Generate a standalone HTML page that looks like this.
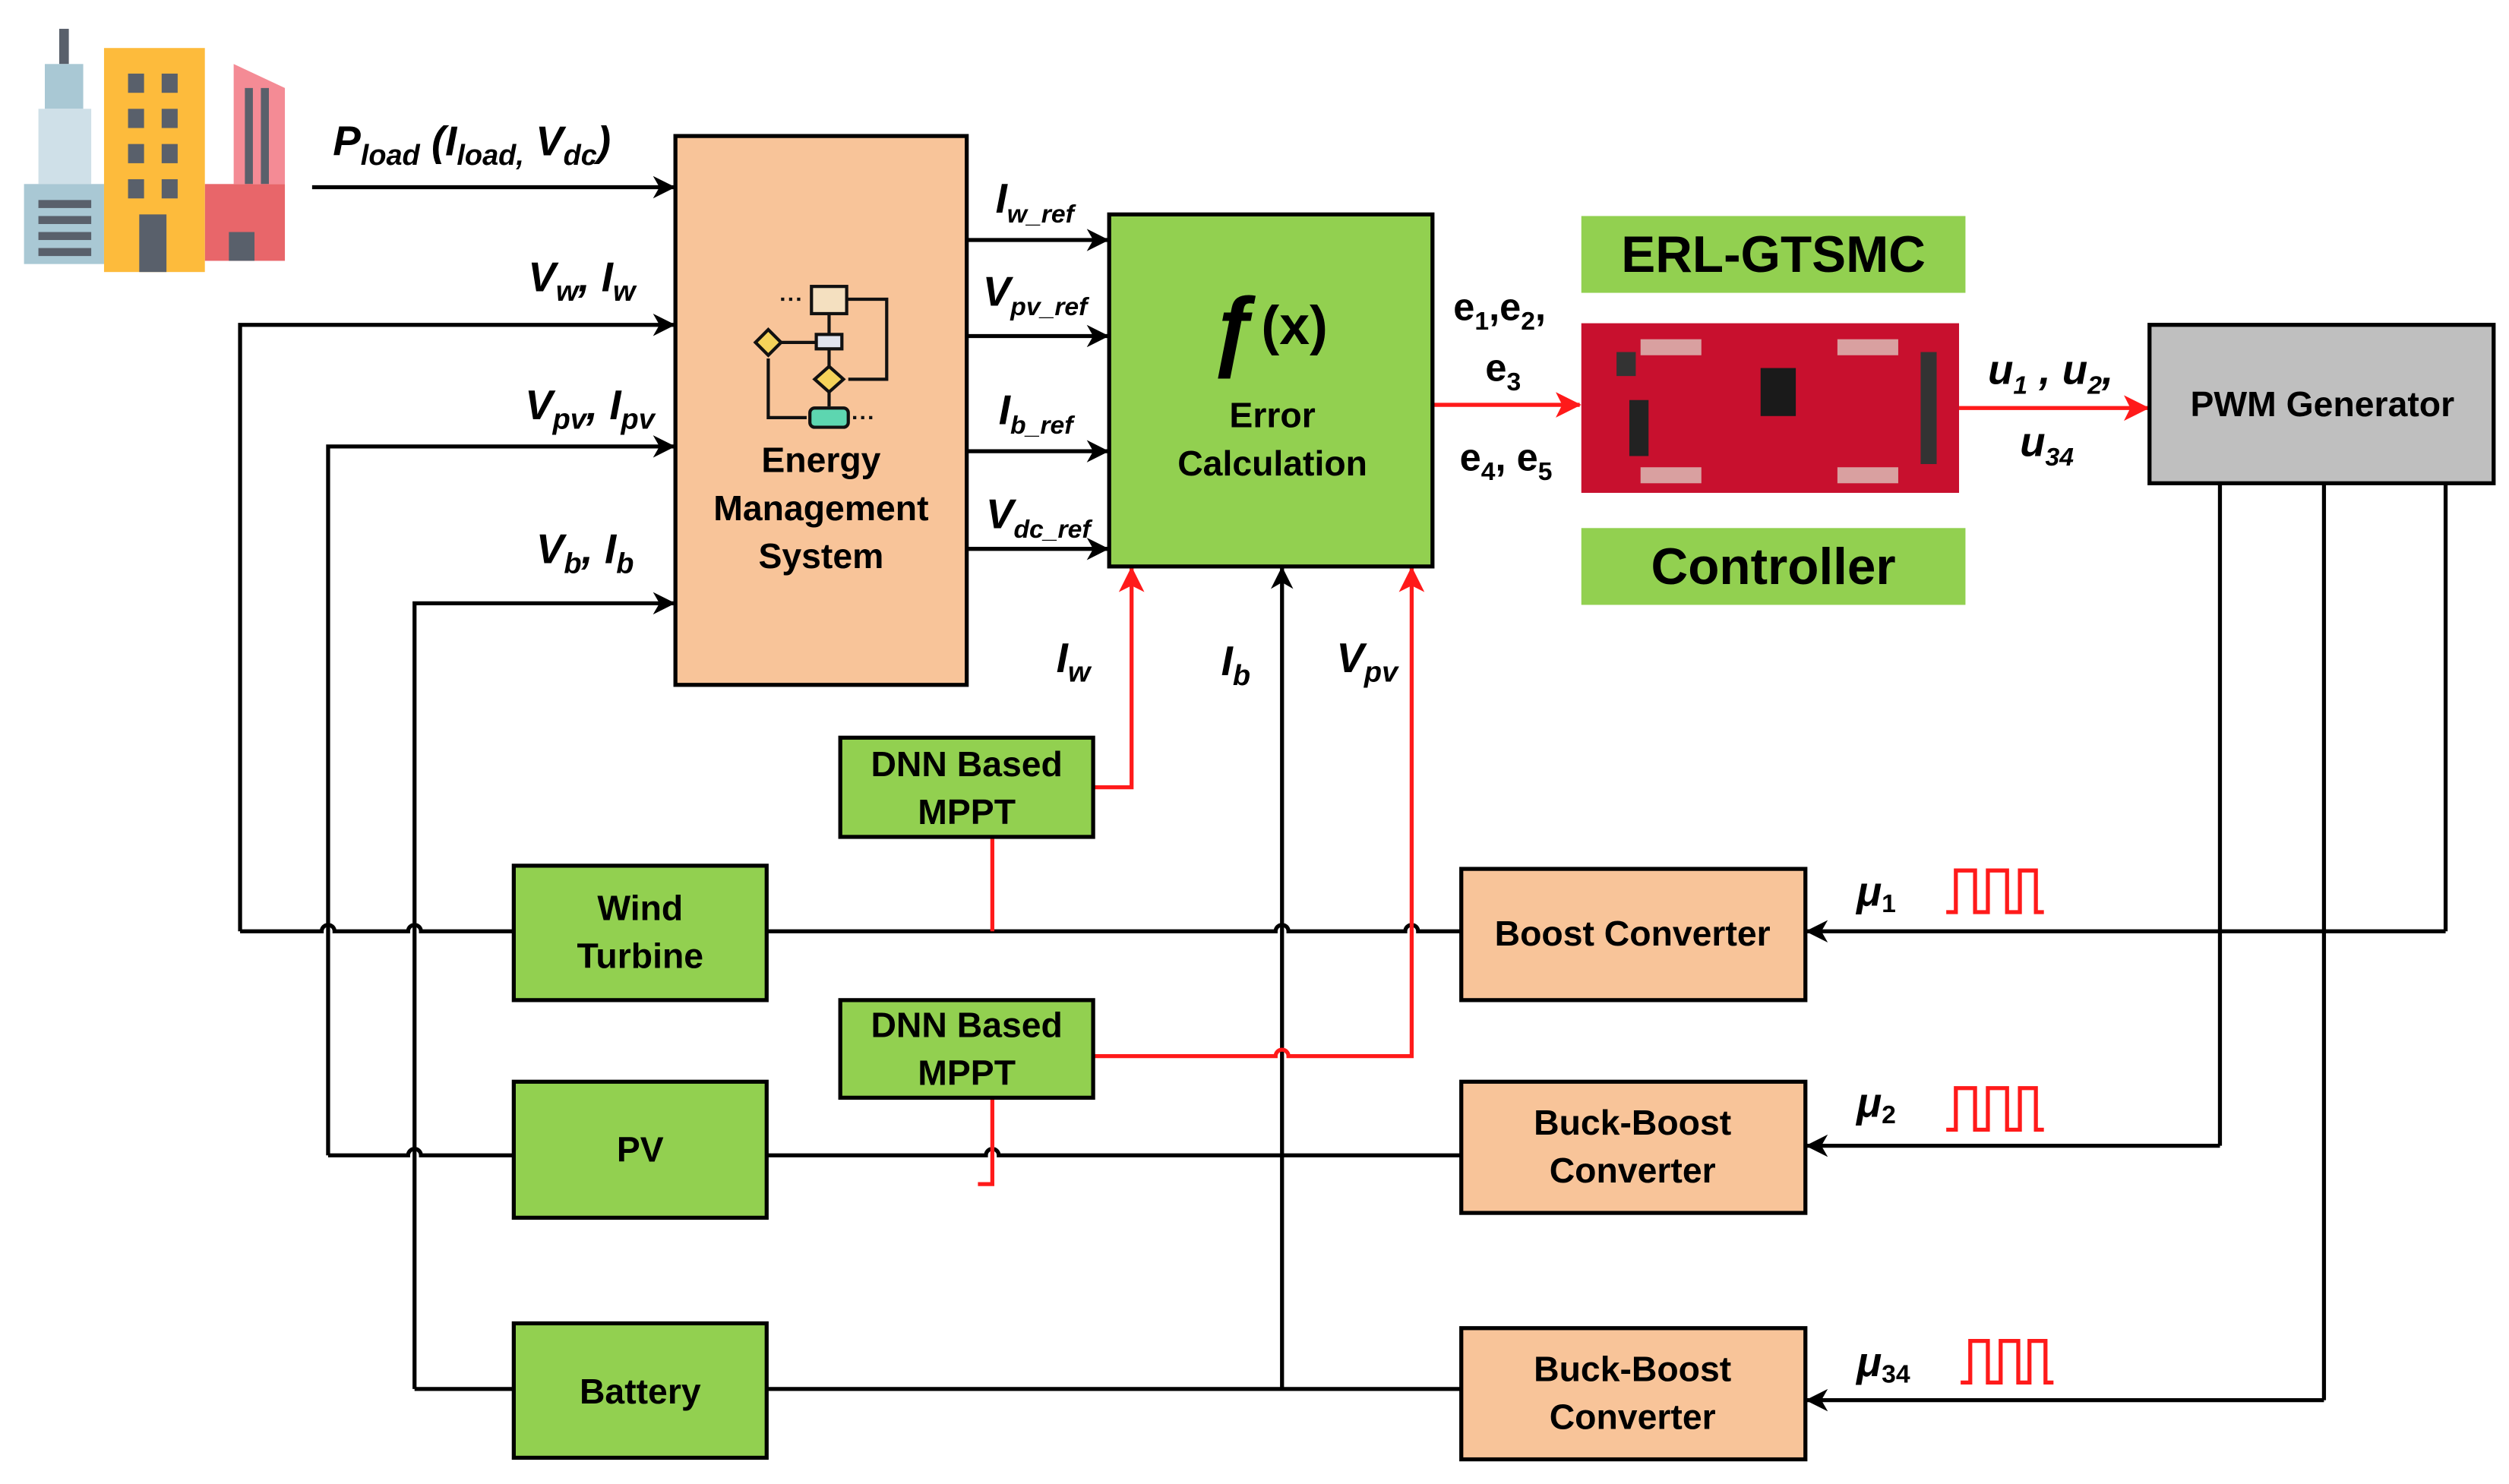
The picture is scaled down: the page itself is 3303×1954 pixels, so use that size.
<!DOCTYPE html>
<html><head><meta charset="utf-8"><style>
html,body{margin:0;padding:0;background:#fff;}
svg{display:block;}
text{font-family:"Liberation Sans",Arial,sans-serif;font-weight:bold;fill:#000;}
.m{font-style:italic;font-size:26px;}
.s{font-size:17px;}
.b{font-size:22px;}
</style></head><body>
<svg width="3303" height="1954" viewBox="0 0 1567.6 927.4" preserveAspectRatio="none" xmlns="http://www.w3.org/2000/svg">
<defs>
<marker id="ak" markerWidth="14" markerHeight="14" refX="13" refY="7" orient="auto" markerUnits="userSpaceOnUse"><path d="M0,0 L14,7 L0,14 L4,7 Z" fill="#000"/></marker>
<marker id="ar" markerWidth="16" markerHeight="16" refX="15" refY="8" orient="auto" markerUnits="userSpaceOnUse"><path d="M0,0 L16,8 L0,16 L4,8 Z" fill="#ff1a1a"/></marker>
</defs>
<!-- building -->
<rect x="37" y="18" width="6" height="22" fill="#59606b"/>
<rect x="28" y="40" width="24" height="28" fill="#a9c8d4"/>
<rect x="24" y="68" width="33" height="47" fill="#cfe0e8"/>
<rect x="15" y="115" width="50" height="50" fill="#a9c8d4"/>
<rect x="24" y="125" width="33" height="5" fill="#59606b"/><rect x="24" y="135" width="33" height="5" fill="#59606b"/><rect x="24" y="145" width="33" height="5" fill="#59606b"/><rect x="24" y="155" width="33" height="5" fill="#59606b"/>
<polygon points="146,40 178,55 178,115 146,115" fill="#f48b95"/>
<rect x="153" y="55" width="5" height="60" fill="#59606b"/><rect x="163" y="55" width="5" height="60" fill="#59606b"/>
<rect x="128" y="115" width="50" height="48" fill="#e8666a"/>
<rect x="143" y="145" width="16" height="18" fill="#59606b"/>
<rect x="65" y="30" width="63" height="140" fill="#fdbb3c"/>
<g fill="#59606b"><rect x="80" y="46" width="10" height="12"/><rect x="101" y="46" width="10" height="12"/><rect x="80" y="68" width="10" height="12"/><rect x="101" y="68" width="10" height="12"/><rect x="80" y="90" width="10" height="12"/><rect x="101" y="90" width="10" height="12"/><rect x="80" y="112" width="10" height="12"/><rect x="101" y="112" width="10" height="12"/><rect x="87" y="134" width="17" height="36"/></g>

<g stroke="#000" stroke-width="2.5" fill="none">
<line x1="195" y1="117" x2="421" y2="117" marker-end="url(#ak)"/>
<polyline points="150,582 150,203 421,203" marker-end="url(#ak)"/>
<polyline points="205,722 205,279 421,279" marker-end="url(#ak)"/>
<polyline points="259,868 259,377 421,377" marker-end="url(#ak)"/>
<line x1="604" y1="150" x2="692" y2="150" marker-end="url(#ak)"/>
<line x1="604" y1="210" x2="692" y2="210" marker-end="url(#ak)"/>
<line x1="604" y1="282" x2="692" y2="282" marker-end="url(#ak)"/>
<line x1="604" y1="343" x2="692" y2="343" marker-end="url(#ak)"/>
<path d="M150,582 H201 a4,4 0 0 1 8,0 H255 a4,4 0 0 1 8,0 H321"/>
<path d="M479,582 H797 a4,4 0 0 1 8,0 H878 a4,4 0 0 1 8,0 H913"/>
<path d="M205,722 H255 a4,4 0 0 1 8,0 H321"/>
<path d="M479,722 H616 a4,4 0 0 1 8,0 H913"/>
<path d="M259,868 H321 M479,868 H913"/>
<polyline points="801,868 801,355" marker-end="url(#ak)"/>
<line x1="1387" y1="302" x2="1387" y2="716"/>
<line x1="1452" y1="302" x2="1452" y2="875"/>
<line x1="1528" y1="302" x2="1528" y2="582"/>
<polyline points="1528,582 1129,582" marker-end="url(#ak)"/>
<polyline points="1387,716 1129,716" marker-end="url(#ak)"/>
<polyline points="1452,875 1129,875" marker-end="url(#ak)"/>
</g>
<g stroke="#ff1a1a" stroke-width="2.5" fill="none">
<polyline points="683,492 707,492 707,355" marker-end="url(#ar)"/>
<path d="M683,660 H797 a4,4 0 0 1 8,0 H882 V355" marker-end="url(#ar)"/>
<line x1="620" y1="523" x2="620" y2="582"/>
<polyline points="620,686 620,740 611,740"/>
<line x1="895" y1="253" x2="987" y2="253" marker-end="url(#ar)"/>
<line x1="1224" y1="255" x2="1342" y2="255" marker-end="url(#ar)"/>
<polyline points="1216,570 1222,570 1222,544 1234,544 1234,570 1242,570 1242,544 1254,544 1254,570 1262,570 1262,544 1272,544 1272,570 1277,570"/>
<polyline points="1216,706 1222,706 1222,680 1234,680 1234,706 1242,706 1242,680 1254,680 1254,706 1262,706 1262,680 1272,680 1272,706 1277,706"/>
<polyline points="1225,864 1231,864 1231,838 1242,838 1242,864 1250,864 1250,838 1261,838 1261,864 1268,864 1268,838 1278,838 1278,864 1283,864"/>
</g>
<g stroke="#000" stroke-width="2.5">
<rect x="422" y="85" width="182" height="343" fill="#f8c499"/>
<rect x="693" y="134" width="202" height="220" fill="#92d050"/>
<rect x="1343" y="203" width="215" height="99" fill="#bfbfbf"/>
<rect x="913" y="543" width="215" height="82" fill="#f8c499"/>
<rect x="913" y="676" width="215" height="82" fill="#f8c499"/>
<rect x="913" y="830" width="215" height="82" fill="#f8c499"/>
<rect x="321" y="541" width="158" height="84" fill="#92d050"/>
<rect x="321" y="676" width="158" height="85" fill="#92d050"/>
<rect x="321" y="827" width="158" height="84" fill="#92d050"/>
<rect x="525" y="461" width="158" height="62" fill="#92d050"/>
<rect x="525" y="625" width="158" height="61" fill="#92d050"/>
</g>
<rect x="988" y="135" width="240" height="48" fill="#92d050"/>
<rect x="988" y="330" width="240" height="48" fill="#92d050"/>
<rect x="988" y="202" width="236" height="106" fill="#c8102e"/>
<rect x="1100" y="230" width="22" height="30" fill="#1a1a1a"/>
<rect x="1010" y="220" width="12" height="15" fill="#333"/>
<rect x="1018" y="250" width="12" height="35" fill="#222"/>
<g fill="#d9a0a0"><rect x="1025" y="212" width="38" height="10"/><rect x="1148" y="212" width="38" height="10"/><rect x="1025" y="292" width="38" height="10"/><rect x="1148" y="292" width="38" height="10"/></g>
<rect x="1200" y="220" width="10" height="70" fill="#333"/>
<g stroke="#111" stroke-width="2" fill="none">
<rect x="507" y="179" width="22" height="17" fill="#f4e0c0"/>
<rect x="510" y="209" width="16" height="9" fill="#e0e4ee"/>
<line x1="518" y1="196" x2="518" y2="209"/><line x1="518" y1="218" x2="518" y2="229"/>
<polygon points="518,229 527,237 518,245 509,237" fill="#f5d35a"/>
<polygon points="480,206 488,214 480,222 472,214" fill="#f5d35a"/>
<line x1="488" y1="214" x2="510" y2="214"/>
<polyline points="529,187 554,187 554,237 530,237"/>
<line x1="518" y1="245" x2="518" y2="254"/>
<rect x="506" y="255" width="24" height="12" rx="3" fill="#5dd6b0"/>
<polyline points="480,224 480,261 504,261"/>
<line x1="488" y1="187" x2="503" y2="187" stroke-dasharray="2,3"/>
<line x1="533" y1="261" x2="548" y2="261" stroke-dasharray="2,3"/>
</g>
<text class="m" x="208" y="97">P<tspan font-size="18" dy="6">load</tspan><tspan dy="-6"> (I</tspan><tspan font-size="18" dy="6">load,</tspan><tspan dy="-6"> V</tspan><tspan font-size="18" dy="6">dc</tspan><tspan dy="-6">)</tspan></text>
<text class="m" x="330" y="182">V<tspan font-size="18" dy="6">w</tspan><tspan dy="-6">, I</tspan><tspan font-size="18" dy="6">w</tspan></text>
<text class="m" x="328" y="262">V<tspan font-size="18" dy="6">pv</tspan><tspan dy="-6">, I</tspan><tspan font-size="18" dy="6">pv</tspan></text>
<text class="m" x="335" y="352">V<tspan font-size="18" dy="6">b</tspan><tspan dy="-6">, I</tspan><tspan font-size="18" dy="6">b</tspan></text>
<text class="m" x="622" y="133" font-size="24">I<tspan font-size="16" dy="6">w_ref</tspan></text>
<text class="m" x="614" y="191" font-size="24">V<tspan font-size="16" dy="6">pv_ref</tspan></text>
<text class="m" x="624" y="265" font-size="24">I<tspan font-size="16" dy="6">b_ref</tspan></text>
<text class="m" x="616" y="330" font-size="24">V<tspan font-size="16" dy="6">dc_ref</tspan></text>
<text class="m" x="660" y="420">I<tspan font-size="18" dy="6">w</tspan></text>
<text class="m" x="763" y="422">I<tspan font-size="18" dy="6">b</tspan></text>
<text class="m" x="835" y="420">V<tspan font-size="18" dy="6">pv</tspan></text>
<text class="b" x="513" y="295" text-anchor="middle">Energy</text>
<text class="b" x="513" y="325" text-anchor="middle">Management</text>
<text class="b" x="513" y="355" text-anchor="middle">System</text>
<text x="755" y="225" font-size="56" font-style="italic" font-family="Liberation Serif,serif">ƒ</text>
<text x="788" y="215" font-size="34">(x)</text>
<text class="b" x="795" y="267" text-anchor="middle">Error</text>
<text class="b" x="795" y="297" text-anchor="middle">Calculation</text>
<text x="908" y="200" font-size="24">e<tspan font-size="16" dy="6">1</tspan><tspan dy="-6">,e</tspan><tspan font-size="16" dy="6">2</tspan><tspan dy="-6">,</tspan></text>
<text x="928" y="238" font-size="24">e<tspan font-size="16" dy="6">3</tspan></text>
<text x="912" y="294" font-size="24">e<tspan font-size="16" dy="6">4</tspan><tspan dy="-6">, e</tspan><tspan font-size="16" dy="6">5</tspan></text>
<text x="1108" y="170" font-size="32" text-anchor="middle">ERL-GTSMC</text>
<text x="1108" y="365" font-size="32" text-anchor="middle">Controller</text>
<text class="m" x="1242" y="240" font-size="24">u<tspan font-size="16" dy="6">1</tspan><tspan dy="-6"> , u</tspan><tspan font-size="16" dy="6">2</tspan><tspan dy="-6">,</tspan></text>
<text class="m" x="1262" y="285" font-size="24">u<tspan font-size="16" dy="6">34</tspan></text>
<text class="b" x="1451" y="260" text-anchor="middle">PWM Generator</text>
<text class="b" x="1020" y="591" text-anchor="middle">Boost Converter</text>
<text class="b" x="1020" y="709" text-anchor="middle">Buck-Boost</text>
<text class="b" x="1020" y="739" text-anchor="middle">Converter</text>
<text class="b" x="1020" y="863" text-anchor="middle">Buck-Boost</text>
<text class="b" x="1020" y="893" text-anchor="middle">Converter</text>
<text class="b" x="400" y="575" text-anchor="middle">Wind</text>
<text class="b" x="400" y="605" text-anchor="middle">Turbine</text>
<text class="b" x="400" y="726" text-anchor="middle">PV</text>
<text class="b" x="400" y="877" text-anchor="middle">Battery</text>
<text class="b" x="604" y="485" text-anchor="middle">DNN Based</text>
<text class="b" x="604" y="515" text-anchor="middle">MPPT</text>
<text class="b" x="604" y="648" text-anchor="middle">DNN Based</text>
<text class="b" x="604" y="678" text-anchor="middle">MPPT</text>
<text class="m" x="1160" y="566" font-size="24" font-family="Liberation Serif,serif">μ<tspan font-size="16" dy="4" font-style="normal" font-family="Liberation Sans,sans-serif">1</tspan></text>
<text class="m" x="1160" y="698" font-size="24" font-family="Liberation Serif,serif">μ<tspan font-size="16" dy="4" font-style="normal" font-family="Liberation Sans,sans-serif">2</tspan></text>
<text class="m" x="1160" y="860" font-size="24" font-family="Liberation Serif,serif">μ<tspan font-size="16" dy="4" font-style="normal" font-family="Liberation Sans,sans-serif">34</tspan></text>
</svg>
</body></html>
